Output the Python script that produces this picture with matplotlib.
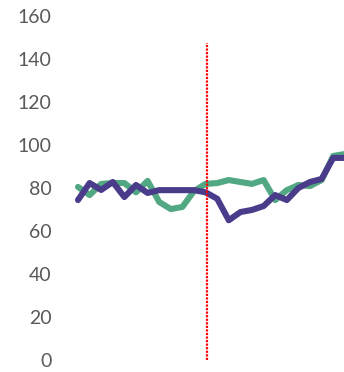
import matplotlib
matplotlib.use("Agg")
import matplotlib.pyplot as plt

# Series values per period
periods = list(range(24))
green_vals = [80.5, 76.7, 81.9, 82.3, 82.3, 78.0, 83.3, 73.5, 70.2, 71.2, 78.6, 81.9,
              82.3, 83.7, 82.8, 81.9, 83.7, 74.4, 79.0, 81.4, 80.9, 83.7, 94.9, 95.8]
purple_vals = [74.4, 82.3, 79.1, 82.8, 75.8, 81.4, 77.7, 79.0, 79.0, 79.0, 79.0, 78.0,
               75.0, 65.0, 68.8, 69.8, 71.6, 76.7, 74.4, 80.0, 82.8, 84.2, 94.0, 94.0]
event_x = 11.1
event_top = 147.5
y_ticks = [0, 20, 40, 60, 80, 100, 120, 140, 160]

plt.rcParams['font.family'] = ['Lato', 'DejaVu Sans']

fig = plt.figure(figsize=(3.44, 3.72), dpi=100)
W, H = 344, 372
ax = fig.add_axes([60 / W, 12 / H, (W - 60) / W, 344 / H])

ax.plot(periods, green_vals, color='#52A882', lw=4.4, solid_joinstyle='round',
        solid_capstyle='round', zorder=2)
ax.plot(periods, purple_vals, color='#4A3C8B', lw=4.4, solid_joinstyle='round',
        solid_capstyle='round', zorder=3)
ax.plot([event_x, event_x], [0, event_top], color='#FF0000', lw=1.6,
        linestyle=(0, (1, 0.6)), zorder=4)

ax.set_xlim(-1.55, 22.93)
ax.set_ylim(0, 160)
ax.set_yticks(y_ticks)
ax.set_yticklabels([str(v) for v in y_ticks])
ax.tick_params(axis='y', length=0, pad=6, labelsize=14, labelcolor='#595959')
ax.set_xticks([])
for s in ax.spines.values():
    s.set_visible(False)

fig.savefig('out.png', dpi=100)
